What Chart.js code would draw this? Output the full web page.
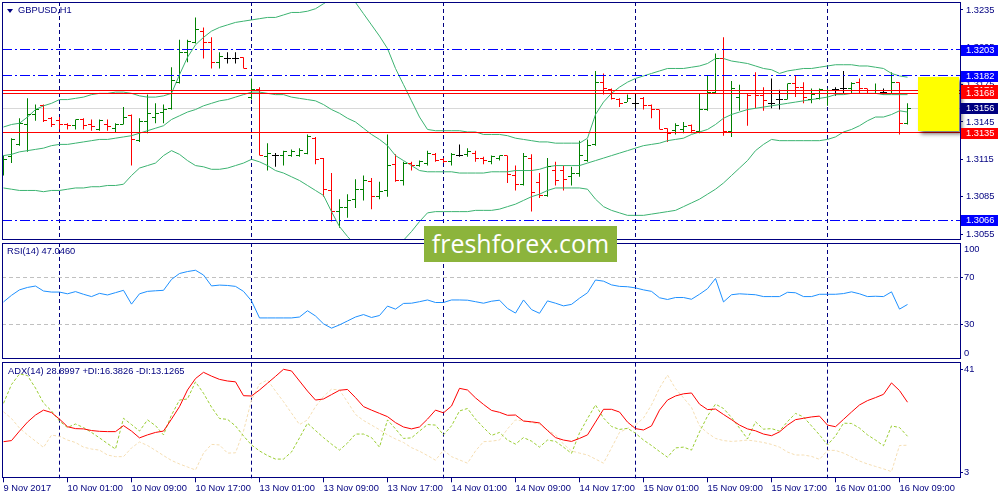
<!DOCTYPE html>
<html>
<head>
<meta charset="utf-8">
<script src="https://cdn.jsdelivr.net/npm/chart.js@4.4.1/dist/chart.umd.min.js"></script>
<style>
  body { margin: 0; background: #fff; }
  #wrap { position: relative; width: 1000px; height: 500px; overflow: hidden; font-family: 'Liberation Sans', Arial, sans-serif; }
  #wrap canvas { position: absolute; left: 0; }
  .lbl { position: absolute; color: #000080; font-size: 9.3px; line-height: 12px; white-space: nowrap; }
  #tri { position: absolute; left: 7px; top: 9px; width: 0; height: 0; border-left: 3px solid transparent; border-right: 3px solid transparent; border-top: 4px solid #000080; }
  #logo { position: absolute; left: 424px; top: 226px; width: 193px; height: 36px; background: #8cb43c; color: #fff; font-family: 'Open Sans', sans-serif; font-size: 25px; line-height: 35px; text-align: center; }
</style>
</head>
<body>
<div id="wrap">
  <canvas id="main" width="1000" height="241" style="top:0"></canvas>
  <canvas id="rsi" width="1000" height="120" style="top:241px"></canvas>
  <canvas id="adx" width="1000" height="139" style="top:361px"></canvas>
  <div id="tri"></div>
  <div class="lbl" style="left:18px;top:4px">GBPUSD,H1</div>
  <div class="lbl" style="left:7px;top:245px">RSI(14) 47.0460</div>
  <div class="lbl" style="left:8px;top:365px">ADX(14) 28.8997 +DI:16.3826 -DI:13.1265</div>
  <div id="logo">freshforex.com</div>
</div>
<script>
// GBPUSD H1, 9 Nov 17:00 .. 16 Nov 10:00
const opens = [
  1.3106,1.3117,1.3127,1.3143,1.3151,1.3158,1.3148,1.3146,1.3143,1.3142,
  1.3147,1.3143,1.3139,1.3143,1.3140,1.3143,1.3150,1.3130,1.3145,1.3149,
  1.3153,1.3156,1.3177,1.3201,1.3209,1.3218,1.3209,1.3193,1.3196,1.3196,
  1.3197,1.3165,1.3171,1.3117,1.3118,1.3118,1.3118,1.3118,1.3120,1.3132,
  1.3116,1.3090,1.3073,1.3076,1.3083,1.3091,1.3097,1.3085,1.3090,1.3111,
  1.3098,1.3112,1.3110,1.3112,1.3119,1.3115,1.3113,1.3118,1.3119,1.3120,
  1.3116,1.3113,1.3116,1.3118,1.3102,1.3095,1.3116,1.3096,1.3086,1.3106,
  1.3106,1.3101,1.3104,1.3114,1.3127,1.3177,1.3171,1.3163,1.3161,1.3160,
  1.3164,1.3158,1.3155,1.3140,1.3138,1.3139,1.3142,1.3137,1.3155,1.3169,
  1.3196,1.3137,1.3165,1.3168,1.3168,1.3166,1.3160,1.3163,1.3163,1.3176,
  1.3173,1.3163,1.3164,1.3168,1.3171,1.3172,1.3172,1.3177,1.3172,1.3168,
  1.3169,1.3168,1.3177,1.3144];
const highs = [
  1.3118,1.3132,1.3148,1.3164,1.3159,1.3159,1.3149,1.3149,1.3144,1.3147,
  1.3148,1.3147,1.3147,1.3147,1.3144,1.3157,1.3151,1.3148,1.3167,1.3160,
  1.3159,1.3189,1.3211,1.3211,1.3229,1.3221,1.3213,1.3201,1.3201,1.3201,
  1.3197,1.3180,1.3173,1.3128,1.3120,1.3122,1.3123,1.3124,1.3135,1.3133,
  1.3116,1.3104,1.3083,1.3087,1.3099,1.3102,1.3100,1.3097,1.3135,1.3119,
  1.3113,1.3113,1.3114,1.3122,1.3120,1.3116,1.3120,1.3127,1.3124,1.3122,
  1.3117,1.3118,1.3118,1.3118,1.3110,1.3120,1.3119,1.3104,1.3116,1.3113,
  1.3110,1.3109,1.3130,1.3131,1.3186,1.3184,1.3172,1.3164,1.3167,1.3168,
  1.3165,1.3159,1.3155,1.3140,1.3144,1.3145,1.3143,1.3168,1.3182,1.3200,
  1.3213,1.3178,1.3175,1.3168,1.3185,1.3173,1.3180,1.3171,1.3176,1.3182,
  1.3177,1.3172,1.3172,1.3172,1.3173,1.3186,1.3177,1.3180,1.3172,1.3176,
  1.3172,1.3185,1.3177,1.3160];
const lows = [
  1.3102,1.3112,1.3126,1.3121,1.3146,1.3145,1.3141,1.3139,1.3139,1.3139,
  1.3139,1.3138,1.3138,1.3138,1.3137,1.3143,1.3110,1.3129,1.3136,1.3144,
  1.3144,1.3155,1.3176,1.3193,1.3208,1.3196,1.3188,1.3188,1.3192,1.3192,
  1.3188,1.3163,1.3118,1.3106,1.3109,1.3110,1.3117,1.3117,1.3119,1.3111,
  1.3085,1.3065,1.3060,1.3068,1.3076,1.3082,1.3075,1.3083,1.3085,1.3097,
  1.3094,1.3106,1.3109,1.3110,1.3113,1.3112,1.3110,1.3117,1.3117,1.3113,
  1.3111,1.3111,1.3114,1.3096,1.3090,1.3094,1.3073,1.3084,1.3085,1.3094,
  1.3090,1.3094,1.3101,1.3113,1.3126,1.3167,1.3163,1.3157,1.3161,1.3156,
  1.3155,1.3148,1.3139,1.3129,1.3135,1.3136,1.3136,1.3136,1.3154,1.3168,
  1.3134,1.3133,1.3154,1.3142,1.3156,1.3154,1.3156,1.3155,1.3163,1.3165,
  1.3160,1.3160,1.3163,1.3158,1.3166,1.3168,1.3168,1.3168,1.3168,1.3168,
  1.3167,1.3168,1.3135,1.3143];
const closes = [
  1.3115,1.3131,1.3144,1.3151,1.3155,1.3146,1.3143,1.3143,1.3142,1.3147,
  1.3142,1.3141,1.3146,1.3141,1.3143,1.3149,1.3131,1.3145,1.3152,1.3152,
  1.3155,1.3178,1.3201,1.3210,1.3219,1.3209,1.3193,1.3198,1.3196,1.3196,
  1.3188,1.3171,1.3118,1.3120,1.3118,1.3121,1.3121,1.3122,1.3133,1.3115,
  1.3091,1.3073,1.3076,1.3082,1.3091,1.3098,1.3085,1.3089,1.3110,1.3098,
  1.3112,1.3110,1.3113,1.3120,1.3114,1.3113,1.3119,1.3118,1.3121,1.3116,
  1.3114,1.3117,1.3118,1.3103,1.3095,1.3117,1.3088,1.3086,1.3109,1.3098,
  1.3099,1.3104,1.3118,1.3126,1.3177,1.3172,1.3164,1.3160,1.3164,1.3160,
  1.3158,1.3155,1.3139,1.3136,1.3142,1.3141,1.3138,1.3155,1.3169,1.3196,
  1.3137,1.3172,1.3168,1.3166,1.3166,1.3162,1.3160,1.3163,1.3176,1.3173,
  1.3165,1.3167,1.3171,1.3170,1.3171,1.3172,1.3176,1.3172,1.3168,1.3170,
  1.3169,1.3177,1.3144,1.3156];

// Bollinger Bands (upper / middle / lower)
const bbUpper = [
  1.3141,1.3143,1.3144,1.3149,1.3155,1.3158,1.3160,1.3163,1.3163,1.3164,
  1.3165,1.3167,1.3168,1.3168,1.3169,1.3169,1.3168,1.3166,1.3165,1.3165,
  1.3166,1.3168,1.3183,1.3197,1.3207,1.3213,1.3218,1.3221,1.3223,1.3225,
  1.3226,1.3227,1.3228,1.3229,1.3229,1.3231,1.3233,1.3233,1.3234,1.3236,
  1.3240,1.3244,1.3246,1.3245,1.3241,1.3232,1.3223,1.3214,1.3204,1.3188,
  1.3175,1.3162,1.3149,1.3139,1.3138,1.3138,1.3138,1.3138,1.3137,1.3137,
  1.3135,1.3135,1.3135,1.3134,1.3132,1.3131,1.3130,1.3129,1.3129,1.3128,
  1.3128,1.3128,1.3128,1.3132,1.3151,1.3161,1.3168,1.3173,1.3177,1.3180,
  1.3182,1.3184,1.3186,1.3188,1.3188,1.3188,1.3189,1.3190,1.3192,1.3196,
  1.3196,1.3194,1.3193,1.3192,1.3190,1.3188,1.3187,1.3184,1.3186,1.3187,
  1.3188,1.3188,1.3189,1.3190,1.3191,1.3191,1.3191,1.3190,1.3190,1.3189,
  1.3188,1.3184,1.3182,1.3181];
const bbMiddle = [
  1.3118,1.3119,1.3121,1.3122,1.3123,1.3124,1.3126,1.3127,1.3127,1.3128,
  1.3129,1.3130,1.3131,1.3131,1.3132,1.3133,1.3134,1.3136,1.3138,1.3140,
  1.3142,1.3147,1.3150,1.3153,1.3155,1.3158,1.3160,1.3162,1.3163,1.3165,
  1.3167,1.3169,1.3169,1.3168,1.3167,1.3167,1.3165,1.3164,1.3163,1.3162,
  1.3159,1.3155,1.3152,1.3148,1.3145,1.3140,1.3135,1.3131,1.3126,1.3118,
  1.3114,1.3110,1.3106,1.3105,1.3105,1.3105,1.3105,1.3104,1.3104,1.3104,
  1.3104,1.3105,1.3105,1.3105,1.3106,1.3106,1.3106,1.3107,1.3109,1.3110,
  1.3110,1.3110,1.3110,1.3112,1.3114,1.3116,1.3118,1.3120,1.3122,1.3124,
  1.3126,1.3127,1.3128,1.3130,1.3131,1.3132,1.3135,1.3137,1.3139,1.3143,
  1.3148,1.3151,1.3153,1.3155,1.3156,1.3157,1.3158,1.3159,1.3160,1.3161,
  1.3162,1.3163,1.3164,1.3165,1.3167,1.3167,1.3168,1.3168,1.3168,1.3168,
  1.3167,1.3167,1.3167,1.3167];
const bbLower = [
  1.3092,1.3091,1.3090,1.3090,1.3090,1.3089,1.3090,1.3090,1.3091,1.3092,
  1.3092,1.3093,1.3093,1.3094,1.3094,1.3095,1.3102,1.3108,1.3110,1.3112,
  1.3118,1.3122,1.3119,1.3114,1.3110,1.3109,1.3107,1.3107,1.3108,1.3110,
  1.3112,1.3115,1.3113,1.3110,1.3106,1.3104,1.3101,1.3098,1.3094,1.3090,
  1.3086,1.3073,1.3061,1.3053,1.3046,1.3042,1.3038,1.3038,1.3040,1.3044,
  1.3050,1.3057,1.3065,1.3072,1.3073,1.3073,1.3073,1.3073,1.3073,1.3074,
  1.3074,1.3074,1.3075,1.3077,1.3079,1.3082,1.3085,1.3087,1.3090,1.3092,
  1.3092,1.3092,1.3092,1.3091,1.3083,1.3077,1.3074,1.3072,1.3070,1.3070,
  1.3070,1.3071,1.3072,1.3073,1.3074,1.3077,1.3080,1.3083,1.3087,1.3091,
  1.3096,1.3102,1.3108,1.3114,1.3122,1.3127,1.3131,1.3130,1.3130,1.3130,
  1.3130,1.3130,1.3130,1.3131,1.3133,1.3137,1.3139,1.3142,1.3146,1.3149,
  1.3149,1.3151,1.3154,1.3153];

const rsi14 = [
  49.2,54.9,59.6,61.7,62.9,58.6,57.7,57.7,56.2,58.1,
  55.8,53.8,56.6,55.2,57.2,59.2,47.3,56.2,58.3,58.8,
  59.2,68.6,73.7,75.4,76.5,72.4,63.0,63.7,63.4,62.6,
  58.3,50.1,35.4,35.4,35.4,35.4,35.4,36.2,41.6,37.1,
  30.3,26.6,29.4,32.8,36.2,38.3,35.8,37.5,45.6,43.0,
  47.9,48.1,49.4,50.9,48.7,48.7,50.9,50.9,50.7,49.4,
  48.1,49.8,50.7,43.6,39.6,50.9,42.6,39.4,50.1,48.1,
  45.8,47.1,52.4,57.1,68.1,67.1,63.9,62.6,62.3,61.3,
  59.6,58.3,52.8,51.3,53.0,53.0,51.5,55.8,60.6,69.4,
  49.2,55.4,56.2,55.8,55.4,53.8,53.8,53.8,57.5,57.1,
  53.8,53.8,55.8,55.8,55.8,56.4,57.9,56.2,53.8,54.1,
  53.8,57.9,43.0,47.0];

const adx14 = [
  14.4,14.8,18.3,21.6,24.2,26.0,25.1,22.7,19.9,19.2,
  19.1,18.5,18.2,18.1,18.1,20.3,18.3,15.8,16.9,17.8,
  18.3,22.7,27.3,33.4,37.6,39.9,38.5,37.3,36.7,36.4,
  31.3,31.2,33.4,35.9,38.4,41.0,40.4,36.7,33.0,29.7,
  30.1,31.7,33.3,33.6,30.6,27.3,26.0,24.8,23.6,21.4,
  19.8,19.1,19.8,22.7,26.0,25.0,27.5,34.0,33.4,30.5,
  28.1,25.9,25.2,24.1,24.2,22.0,21.7,21.3,18.5,15.9,
  15.0,14.5,15.6,16.9,21.6,26.3,26.3,25.3,21.6,19.2,
  18.7,20.2,26.0,29.7,31.2,32.0,32.3,28.2,26.2,26.4,
  24.4,22.5,20.5,19.1,18.4,17.2,16.6,18.0,20.5,22.5,
  23.0,23.5,23.8,20.5,19.9,22.6,25.3,27.9,29.5,30.6,
  31.8,36.0,33.2,28.9];
const plusDI = [
  28.5,35.4,39.3,38.7,34.1,28.6,25.7,22.0,19.6,20.9,
  19.6,17.8,15.8,13.7,11.7,23.0,20.7,18.3,22.4,20.3,
  16.9,24.2,29.7,30.1,36.4,32.2,27.1,22.9,22.6,20.2,
  16.5,13.2,11.0,9.3,8.0,8.0,10.6,15.8,21.2,18.5,
  15.9,13.5,11.3,13.9,17.2,17.2,15.9,12.4,22.4,19.1,
  15.6,15.8,18.3,20.7,20.5,16.9,20.2,25.7,26.6,22.7,
  19.6,16.7,17.8,15.0,13.5,15.9,14.6,12.4,15.0,14.5,
  12.4,10.1,17.6,22.9,27.9,23.1,20.0,18.9,19.3,17.5,
  15.0,13.0,10.8,8.7,12.1,12.4,11.3,18.0,23.8,28.2,
  26.6,23.3,19.4,15.4,21.7,19.0,19.2,18.3,21.8,24.8,
  23.5,20.2,16.9,13.2,16.5,21.2,21.1,19.4,16.9,15.0,
  12.9,20.2,19.6,16.4];
const minusDI = [
  25.4,22.9,19.4,16.9,14.6,12.3,16.8,16.4,15.0,14.1,
  12.4,11.7,11.3,9.5,8.9,8.9,12.1,14.3,13.0,11.2,
  9.3,7.5,6.2,5.1,4.0,10.2,13.4,13.2,10.2,10.3,
  18.3,29.7,35.6,37.1,33.0,29.1,24.9,20.7,22.4,27.3,
  31.0,33.7,33.4,29.0,24.4,22.2,20.5,18.8,16.9,15.4,
  14.1,12.2,10.9,9.3,7.6,11.3,8.9,7.7,6.5,11.0,
  14.4,14.6,15.0,19.1,22.4,22.0,21.4,20.9,18.7,16.9,
  13.5,11.0,10.2,9.5,8.0,6.5,12.1,17.8,19.3,20.5,
  23.1,27.9,34.1,38.9,33.9,30.5,27.0,20.2,17.6,15.6,
  14.8,14.5,14.7,15.0,14.6,14.1,13.4,12.4,10.6,9.5,
  9.5,9.0,7.9,11.2,11.2,10.2,8.8,7.3,6.2,5.3,
  4.4,3.4,13.0,13.1];

// axes, levels, labels
const priceTicks = [1.3235, 1.3205, 1.3175, 1.3145, 1.3115, 1.3085, 1.3055];
const timeTickIdx = [0, 8, 16, 24, 32, 40, 48, 56, 64, 72, 80, 88, 96, 104, 112];
const timeLabels = ['9 Nov 2017', '10 Nov 01:00', '10 Nov 09:00', '10 Nov 17:00', '13 Nov 01:00',
  '13 Nov 09:00', '13 Nov 17:00', '14 Nov 01:00', '14 Nov 09:00', '14 Nov 17:00',
  '15 Nov 01:00', '15 Nov 09:00', '15 Nov 17:00', '16 Nov 01:00', '16 Nov 09:00'];
const daySepIdx = [7, 31, 55, 79, 103];
const blueLevels = [1.3203, 1.3182, 1.3066];
const blueLabels = ['1.3203', '1.3182', '1.3066'];
const redLevels = [1.31707, 1.3168, 1.31362];
const redLabels = ['1.3171', '1.3168', '1.3135'];
const bidPrice = 1.3156;
const rsiLevels = [70, 30];
const adxTicks = [41, 3];
const boxTime = [114.25, 119.4];
const boxPrice = [1.3181, 1.3138];

Chart.defaults.font.family = "'Liberation Sans', Arial, sans-serif";
Chart.defaults.font.size = 9.3;

const idx = opens.map((_, i) => i);
const pts = arr => arr.map((v, i) => ({ x: i, y: v }));
const barColors = opens.map((o, i) => closes[i] > o ? '#008000' : (closes[i] < o ? '#FF0000' : '#000000'));

// no automatic label padding: the plot areas must sit exactly like the terminal panels
function noPad(s) { s.paddingTop = 0; s.paddingBottom = 0; s.paddingLeft = 0; s.paddingRight = 0; }

function xAxis(extra) {
  return Object.assign({ type: 'linear', min: -0.1875, max: 119.5625, bounds: 'data', offset: false, display: false }, extra || {});
}
function rightAxis(min, max, ticks, pad, fmt) {
  return {
    type: 'linear', position: 'right', min: min, max: max, bounds: 'data',
    afterFit: s => { s.width = 40; noPad(s); },
    afterBuildTicks: s => { s.ticks = ticks.map(v => ({ value: v })); },
    ticks: { color: '#000080', padding: pad, autoSkip: false, callback: fmt },
    grid: { drawOnChartArea: false, tickLength: 3, color: '#000080' },
    border: { display: false }
  };
}

function drawSeparators(chart) {
  const { ctx, chartArea: a, scales: { x } } = chart;
  ctx.save();
  ctx.strokeStyle = '#000080';
  ctx.lineWidth = 1;
  ctx.setLineDash([4, 3]);
  daySepIdx.forEach(i => {
    const px = Math.floor(x.getPixelForValue(i)) + 0.5;
    ctx.beginPath(); ctx.moveTo(px, a.top); ctx.lineTo(px, a.bottom); ctx.stroke();
  });
  ctx.restore();
}
function drawFrame(chart) {
  const { ctx, chartArea: a } = chart;
  ctx.save();
  ctx.strokeStyle = '#000080';
  ctx.lineWidth = 1;
  ctx.strokeRect(Math.floor(a.left) + 0.5, Math.floor(a.top) + 0.5, Math.round(a.right - a.left), Math.round(a.bottom - a.top) - 1);
  ctx.restore();
}
function hLine(chart, price, color, dash) {
  const { ctx, chartArea: a, scales: { y } } = chart;
  const py = Math.floor(y.getPixelForValue(price)) + 0.5;
  ctx.save();
  ctx.strokeStyle = color; ctx.lineWidth = 1; ctx.setLineDash(dash);
  ctx.beginPath(); ctx.moveTo(a.left, py); ctx.lineTo(a.right, py); ctx.stroke();
  ctx.restore();
}
function priceTag(chart, price, text, bg) {
  const { ctx, chartArea: a, scales: { y } } = chart;
  const py = Math.round(y.getPixelForValue(price));
  ctx.save();
  ctx.fillStyle = bg;
  ctx.fillRect(a.right + 1, py - 5, 37, 11);
  ctx.fillStyle = '#FFFFFF';
  ctx.font = "9.3px 'Liberation Sans', Arial, sans-serif";
  ctx.textBaseline = 'middle';
  ctx.fillText(text, a.right + 6, py + 0.5);
  ctx.restore();
}

const mainExtras = {
  id: 'mainExtras',
  beforeDatasetsDraw(chart) {
    hLine(chart, bidPrice, '#D8D8D8', []);
    drawSeparators(chart);
  },
  afterDatasetsDraw(chart) {
    const { ctx, chartArea: a, scales: { x, y } } = chart;
    ctx.save();
    ctx.beginPath(); ctx.rect(a.left, a.top, a.right - a.left, a.bottom - a.top); ctx.clip();
    // open / close ticks of the OHLC bars
    idx.forEach(i => {
      const cx = Math.floor(x.getPixelForValue(i));
      ctx.fillStyle = barColors[i];
      ctx.fillRect(cx - 3, Math.floor(y.getPixelForValue(opens[i])), 3, 1);
      ctx.fillRect(cx + 1, Math.floor(y.getPixelForValue(closes[i])), 3, 1);
    });
    ctx.restore();
    blueLevels.forEach(v => hLine(chart, v, '#0000FF', [10, 3, 2, 3]));
    redLevels.forEach(v => hLine(chart, v, '#FF0000', []));
    // yellow rectangle
    const x0 = x.getPixelForValue(boxTime[0]), x1 = x.getPixelForValue(boxTime[1]);
    const y0 = y.getPixelForValue(boxPrice[0]), y1 = y.getPixelForValue(boxPrice[1]);
    ctx.save();
    ctx.shadowColor = 'rgba(0,0,0,0.55)';
    ctx.shadowBlur = 4; ctx.shadowOffsetX = 3; ctx.shadowOffsetY = 3;
    ctx.fillStyle = '#FFFF00';
    ctx.fillRect(Math.round(x0), Math.round(y0), Math.round(x1 - x0), Math.round(y1 - y0));
    ctx.restore();
  },
  afterDraw(chart) {
    drawFrame(chart);
    blueLevels.forEach((v, k) => priceTag(chart, v, blueLabels[k], '#0000FF'));
    redLevels.forEach((v, k) => priceTag(chart, v, redLabels[k], '#FF0000'));
    priceTag(chart, bidPrice, bidPrice.toFixed(4), '#000080');
  }
};

new Chart(document.getElementById('main'), {
  type: 'line',
  data: {
    datasets: [
      { type: 'bar', data: idx.map(i => ({ x: i, y: [lows[i], highs[i]] })), backgroundColor: barColors,
        barThickness: 1, inflateAmount: 0, borderWidth: 0, grouped: false, order: 5 },
      { data: pts(bbUpper), borderColor: '#3CB371', borderWidth: 1, pointRadius: 0, order: 1 },
      { data: pts(bbMiddle), borderColor: '#3CB371', borderWidth: 1, pointRadius: 0, order: 1 },
      { data: pts(bbLower), borderColor: '#3CB371', borderWidth: 1, pointRadius: 0, order: 1 }
    ]
  },
  options: {
    responsive: false, animation: false, events: [],
    layout: { padding: { left: 2, top: 2, right: 0, bottom: 1 } },
    plugins: { legend: { display: false }, tooltip: { enabled: false } },
    scales: {
      x: xAxis(),
      y: rightAxis(1.30502, 1.32414, priceTicks, 3, v => v.toFixed(4))
    }
  },
  plugins: [mainExtras]
});

new Chart(document.getElementById('rsi'), {
  type: 'line',
  data: {
    datasets: [
      { data: pts(rsi14), borderColor: '#1E90FF', borderWidth: 1, pointRadius: 0 }
    ]
  },
  options: {
    responsive: false, animation: false, events: [],
    layout: { padding: { left: 2, top: 2, right: 0, bottom: 2 } },
    plugins: { legend: { display: false }, tooltip: { enabled: false } },
    scales: {
      x: xAxis(),
      y: rightAxis(0, 100, rsiLevels, 1, v => String(v))
    }
  },
  plugins: [{
    id: 'rsiExtras',
    beforeDatasetsDraw(chart) {
      const { ctx, chartArea: a, scales: { y } } = chart;
      ctx.save();
      ctx.strokeStyle = '#C0C0C0'; ctx.lineWidth = 1; ctx.setLineDash([4, 3]);
      rsiLevels.forEach(v => {
        const py = Math.floor(y.getPixelForValue(v)) + 0.5;
        ctx.beginPath(); ctx.moveTo(a.left, py); ctx.lineTo(a.right, py); ctx.stroke();
      });
      ctx.restore();
      drawSeparators(chart);
    },
    afterDraw(chart) {
      const { ctx, chartArea: a } = chart;
      drawFrame(chart);
      ctx.save();
      ctx.fillStyle = '#000080';
      ctx.font = "9.3px 'Liberation Sans', Arial, sans-serif";
      ctx.textBaseline = 'middle';
      ctx.fillText('100', a.right + 4, a.top + 6);
      ctx.fillText('0', a.right + 4, a.bottom - 6);
      ctx.restore();
    }
  }]
});

new Chart(document.getElementById('adx'), {
  type: 'line',
  data: {
    datasets: [
      { data: pts(adx14), borderColor: '#FF0000', borderWidth: 1, pointRadius: 0, order: 0 },
      { data: pts(plusDI), borderColor: '#9ACD32', borderWidth: 1, borderDash: [3, 2], pointRadius: 0, order: 1 },
      { data: pts(minusDI), borderColor: '#F5DEB3', borderWidth: 1, borderDash: [3, 2], pointRadius: 0, order: 2 }
    ]
  },
  options: {
    responsive: false, animation: false, events: [],
    layout: { padding: { left: 2, top: 1.7, right: 0, bottom: 0 } },
    plugins: { legend: { display: false }, tooltip: { enabled: false } },
    scales: {
      x: xAxis({
        display: true, position: 'bottom',
        afterBuildTicks: s => { s.ticks = timeTickIdx.map(v => ({ value: v })); },
        afterFit: s => { s.height = 21.7; noPad(s); },
        ticks: { align: 'start', autoSkip: false, maxRotation: 0, minRotation: 0, color: '#000080', padding: 1,
          callback: (v, k) => timeLabels[k] },
        grid: { drawOnChartArea: false, tickLength: 4, color: '#000080' },
        border: { display: false }
      }),
      y: rightAxis(0.94, 43.43, adxTicks, 1, v => String(v))
    }
  },
  plugins: [{
    id: 'adxExtras',
    beforeDatasetsDraw(chart) { drawSeparators(chart); },
    afterDraw(chart) { drawFrame(chart); }
  }]
});
</script>
</body>
</html>
